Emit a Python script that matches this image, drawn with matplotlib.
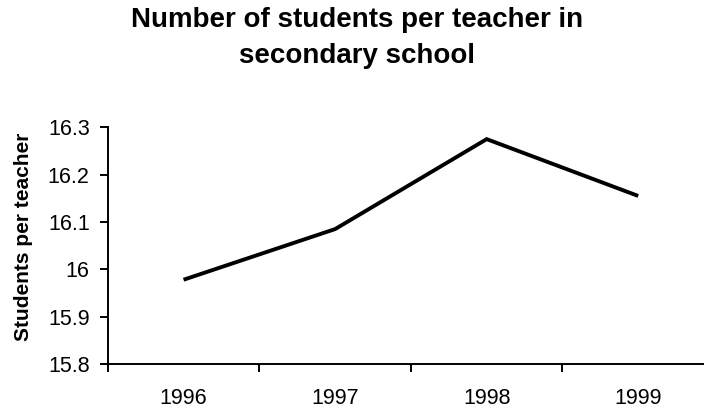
import numpy as np
import matplotlib
matplotlib.use('Agg')
import matplotlib.pyplot as plt
from matplotlib.ticker import FixedLocator

plt.rcParams['font.family'] = ['Liberation Sans', 'DejaVu Sans']

# 数据：从图上读取
years = ['1996', '1997', '1998', '1999']
students_per_teacher = [15.978, 16.085, 16.275, 16.155]
ytick_values = [15.8, 15.9, 16.0, 16.1, 16.2, 16.3]
ytick_labels = ['15.8', '15.9', '16', '16.1', '16.2', '16.3']
title_lines = ['Number of students per teacher in', 'secondary school']

W, H = 704, 415
fig = plt.figure(figsize=(W / 100, H / 100), dpi=100)
# 轴的右端超出画布（原图被裁掉了）
ax = fig.add_axes([107.8 / W, 1 - 364 / H, (714 - 107.8) / W, (364 - 127.3) / H])

x = np.arange(1, len(years) + 1)
ax.plot(x, students_per_teacher, color='black', linewidth=2.8,
        solid_joinstyle='miter', solid_capstyle='butt')

ax.set_xlim(0.5, len(years) + 0.5)
ax.set_ylim(ytick_values[0], ytick_values[-1])

# x 轴：刻度线在类别之间，标签在类别中心
ax.xaxis.set_major_locator(FixedLocator(np.arange(0.5, len(years) + 1, 1.0)))
ax.xaxis.set_minor_locator(FixedLocator(x))
ax.set_xticklabels([], minor=False)
ax.set_xticklabels(years, minor=True, fontsize=15.5)
ax.tick_params(axis='x', which='major', direction='out', length=6, width=1.4)
ax.tick_params(axis='x', which='minor', length=0, pad=17.5)

ax.set_yticks(ytick_values)
ax.set_yticklabels(ytick_labels, fontsize=15.5)
ax.tick_params(axis='y', direction='out', length=6, width=1.4, pad=7)

for side in ['top', 'right']:
    ax.spines[side].set_visible(False)
for side in ['left', 'bottom']:
    ax.spines[side].set_linewidth(1.4)

fig.text(24 / W, 1 - 236.5 / H, 'Students per teacher', rotation=90,
         fontsize=15, fontweight='bold', ha='center', va='center')

# 标题两行分开放，按基线定位
fig.text(357 / W, 1 - 27.3 / H, title_lines[0], fontsize=20, fontweight='bold',
         ha='center', va='baseline')
fig.text(357 / W, 1 - 63.3 / H, title_lines[1], fontsize=20, fontweight='bold',
         ha='center', va='baseline')

fig.savefig('out.png', dpi=100)
